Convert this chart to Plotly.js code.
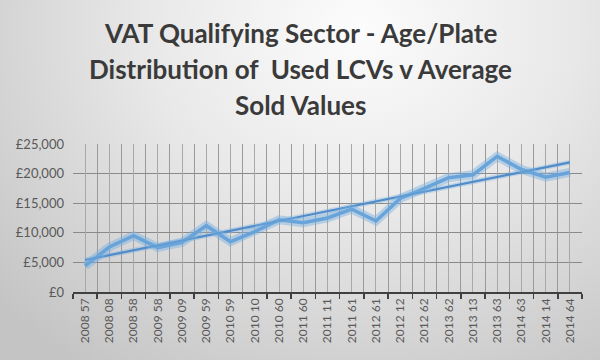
<!DOCTYPE html>
<html>
<head>
<meta charset="utf-8">
<script src="https://cdn.plot.ly/plotly-3.0.1.min.js"></script>
<style>
  html, body { margin: 0; padding: 0; }
  body {
    width: 600px; height: 360px; overflow: hidden;
    background: radial-gradient(ellipse 80% 115% at 60% 8%, #fcfcfc 0%, #e8e8e8 45%, #c4c4c4 100%);
  }
  #chart { width: 600px; height: 360px; }
</style>
</head>
<body>
<div id="chart"></div>
<script>
// Age/plate categories (tick labels)
const categories = [
  "2008 57", "2008 08", "2008 58", "2009 58", "2009 09", "2009 59", "2010 59",
  "2010 10", "2010 60", "2011 60", "2011 11", "2011 61", "2012 61", "2012 12",
  "2012 62", "2013 62", "2013 13", "2013 63", "2014 63", "2014 14", "2014 64"
];
// Average sold values (£)
const soldValues = [
  4400, 7600, 9500, 7500, 8400, 11200, 8500,
  10200, 12200, 11700, 12500, 14000, 12000, 15800,
  17500, 19300, 19800, 22900, 20700, 19400, 20200
];
// Linear trendline end values (£) at first and last category
const trendCategories = [categories[0], categories[categories.length - 1]];
const trendValues = [5400, 21900];
// Chart title, one entry per line
const titleLines = [
  "VAT Qualifying Sector - Age/Plate",
  "Distribution of  Used LCVs v Average",
  "Sold Values"
];

const blue = "#5b9bd5";

const traces = [
  { // soft glow under the data line
    x: categories, y: soldValues, type: "scatter", mode: "lines",
    line: { color: "rgba(120,175,225,0.45)", width: 9 },
    xaxis: "x2", hoverinfo: "skip", showlegend: false
  },
  {
    x: categories, y: soldValues, type: "scatter", mode: "lines",
    name: "Average Sold Value",
    line: { color: blue, width: 3.5 }, showlegend: false
  },
  { // trendline glow
    x: trendCategories, y: trendValues, type: "scatter", mode: "lines",
    line: { color: "rgba(120,175,225,0.35)", width: 5 },
    hoverinfo: "skip", showlegend: false
  },
  {
    x: trendCategories, y: trendValues, type: "scatter", mode: "lines",
    name: "Linear trend",
    line: { color: "#4f8cc9", width: 2.2 }, showlegend: false
  }
];

const titleFont = { family: "Lato, 'Open Sans', sans-serif", size: 26, color: "#3a3a3a", weight: "bold" };
const titleCenters = [33, 69, 105]; // px from top
const annotations = titleLines.map((t, i) => ({
  text: t, showarrow: false,
  xref: "paper", yref: "paper",
  x: (300 - 73) / (600 - 73 - 18), xanchor: "center",
  y: 1 + (144 - titleCenters[i]) / (360 - 144 - 68), yanchor: "middle",
  font: titleFont
}));

const layout = {
  width: 600, height: 360,
  paper_bgcolor: "rgba(0,0,0,0)",
  plot_bgcolor: "rgba(0,0,0,0)",
  margin: { l: 73, r: 18, t: 144, b: 68 },
  font: { family: "Lato, 'Open Sans', sans-serif", color: "#595959" },
  annotations: annotations,
  xaxis: {
    type: "category",
    categoryorder: "array", categoryarray: categories,
    range: [-0.5, categories.length - 0.5],
    tickson: "boundaries",
    ticks: "outside", ticklen: 5, tickwidth: 1.5, tickcolor: "#404040",
    showline: true, linecolor: "#404040", linewidth: 1.5,
    showgrid: true, gridcolor: "#9a9a9a", gridwidth: 1,
    tickangle: -90,
    tickfont: { size: 12, color: "#595959" },
    zeroline: false, fixedrange: true
  },
  xaxis2: {
    type: "category", overlaying: "x",
    categoryorder: "array", categoryarray: categories,
    range: [-0.5, categories.length - 0.5],
    tickson: "labels",
    showgrid: true, gridcolor: "#a8a8a8", gridwidth: 1,
    showticklabels: false, ticks: "", showline: false,
    zeroline: false, fixedrange: true
  },
  yaxis: {
    range: [0, 25000], dtick: 5000, tick0: 0,
    tickprefix: "£", tickformat: ",d",
    showgrid: true, gridcolor: "#8a8a8a", gridwidth: 1,
    showline: false, zeroline: false, ticks: "",
    ticklabelstandoff: 8,
    tickfont: { size: 13, color: "#595959" },
    fixedrange: true
  },
  showlegend: false
};

Plotly.newPlot("chart", traces, layout, { displayModeBar: false, staticPlot: true });
</script>
</body>
</html>
